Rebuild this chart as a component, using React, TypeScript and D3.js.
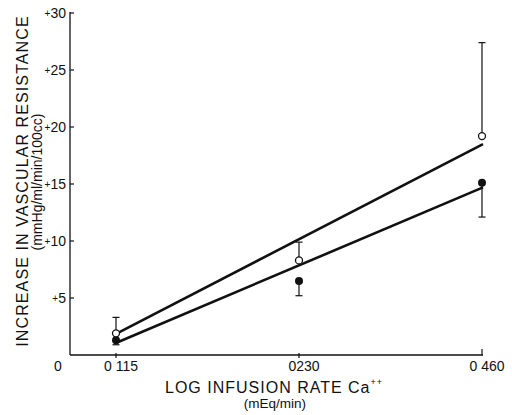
import * as d3 from "d3";
import { useEffect, useRef } from "react";

// infusion rates (mEq/min), plotted on a log axis
const rates = [0.115, 0.23, 0.46];
const rateLabels = ["0 115", "0230", "0 460"];
const yTicks = [5, 10, 15, 20, 25, 30];

// open circles, error bar goes up
const openMean = [1.9, 8.3, 19.2];
const openTop = [3.3, 9.9, 27.4];
// filled circles, error bar goes down
const filledMean = [1.3, 6.5, 15.1];
const filledBottom = [0.9, 5.2, 12.1];

// fitted regression lines (value at first and last rate)
const openFit = [1.9, 18.5];
const filledFit = [1.1, 14.7];

const FONT = "'Liberation Sans', Arial, sans-serif";

function App() {
    const ref = useRef<SVGSVGElement>(null);

    useEffect(() => {
        const svg = d3.select(ref.current);
        svg.selectAll("*").remove();

        const width = 512;
        const height = 415;
        svg.attr("width", width).attr("height", height);

        const axisLeft = 70;
        const x = d3.scaleLog().domain([0.115, 0.46]).range([116, 482]);
        const y = d3.scaleLinear().domain([0, 30]).range([355, 13]);
        const x0 = y(0);

        const ink = "#111";

        // axes
        svg.append("line")
            .attr("x1", axisLeft).attr("x2", x(0.46) + 1)
            .attr("y1", x0).attr("y2", x0)
            .attr("stroke", ink).attr("stroke-width", 1.5);
        svg.append("line")
            .attr("x1", axisLeft).attr("x2", axisLeft)
            .attr("y1", x0).attr("y2", y(30) - 1)
            .attr("stroke", ink).attr("stroke-width", 1.3);

        // y ticks + labels
        yTicks.forEach(v => {
            svg.append("line")
                .attr("x1", axisLeft).attr("x2", axisLeft + 4)
                .attr("y1", y(v)).attr("y2", y(v))
                .attr("stroke", ink).attr("stroke-width", 1.2);
            const t = svg.append("text")
                .attr("x", 66)
                .attr("y", y(v) + 5)
                .attr("text-anchor", "end")
                .style("font-family", FONT)
                .style("font-size", "14px")
                .attr("fill", ink);
            t.append("tspan").style("font-size", "10px").attr("dy", -1).text("+");
            t.append("tspan").attr("dy", 1).text(String(v));
        });

        svg.append("text")
            .attr("x", 58).attr("y", 371)
            .attr("text-anchor", "middle")
            .style("font-family", FONT).style("font-size", "14px")
            .attr("fill", ink)
            .text("0");

        // x ticks + labels
        rates.forEach((r, i) => {
            const px = x(r);
            const last = i === rates.length - 1;
            svg.append("line")
                .attr("x1", px).attr("x2", px)
                .attr("y1", last ? x0 - 6 : x0 - 2)
                .attr("y2", last ? x0 : x0 + 3)
                .attr("stroke", ink).attr("stroke-width", 1.2);
            svg.append("text")
                .attr("x", px + 5)
                .attr("y", 371)
                .attr("text-anchor", "middle")
                .style("font-family", FONT).style("font-size", "14px")
                .attr("fill", ink)
                .text(rateLabels[i]);
        });

        // axis titles
        const xt = svg.append("text")
            .attr("x", 165).attr("y", 393)
            .style("font-family", FONT).style("font-size", "16px")
            .style("letter-spacing", "1px")
            .attr("fill", ink);
        xt.append("tspan").text("LOG INFUSION RATE Ca");
        xt.append("tspan").attr("dy", -8).style("font-size", "9px").text("++");

        svg.append("text")
            .attr("x", 275).attr("y", 408)
            .attr("text-anchor", "middle")
            .style("font-family", FONT).style("font-size", "13.5px")
            .attr("fill", ink)
            .text("(mEq/min)");

        svg.append("text")
            .attr("transform", "translate(28,181) rotate(-90)")
            .attr("text-anchor", "middle")
            .style("font-family", FONT).style("font-size", "16px")
            .style("letter-spacing", "1.1px")
            .attr("fill", ink)
            .text("INCREASE IN VASCULAR RESISTANCE");

        svg.append("text")
            .attr("transform", "translate(42,182) rotate(-90)")
            .attr("text-anchor", "middle")
            .style("font-family", FONT).style("font-size", "14px")
            .attr("fill", ink)
            .text("(mmHg/ml/min/100cc)");

        // regression lines
        const ends = [rates[0], rates[rates.length - 1]];
        [openFit, filledFit].forEach(fit => {
            svg.append("line")
                .attr("x1", x(ends[0]) + 1).attr("y1", y(fit[0]))
                .attr("x2", x(ends[1]) + 1).attr("y2", y(fit[1]))
                .attr("stroke", ink).attr("stroke-width", 2.6);
        });

        // error bars
        const bar = (px: number, from: number, to: number) => {
            svg.append("line")
                .attr("x1", px).attr("x2", px)
                .attr("y1", y(from)).attr("y2", y(to))
                .attr("stroke", ink).attr("stroke-width", 1.2);
            svg.append("line")
                .attr("x1", px - 3.5).attr("x2", px + 3.5)
                .attr("y1", y(to)).attr("y2", y(to))
                .attr("stroke", ink).attr("stroke-width", 1.2);
        };
        rates.forEach((r, i) => {
            bar(x(r), openMean[i], openTop[i]);
            bar(x(r), filledMean[i], filledBottom[i]);
        });

        // points
        svg.selectAll(".filled")
            .data(rates)
            .enter()
            .append("circle")
            .attr("class", "filled")
            .attr("cx", d => x(d))
            .attr("cy", (d, i) => y(filledMean[i]))
            .attr("r", 4)
            .attr("fill", ink);

        svg.selectAll(".open")
            .data(rates)
            .enter()
            .append("circle")
            .attr("class", "open")
            .attr("cx", d => x(d))
            .attr("cy", (d, i) => y(openMean[i]))
            .attr("r", 3.5)
            .attr("fill", "white")
            .attr("stroke", ink)
            .attr("stroke-width", 1.3);
    }, []);

    return (
        <div style={{ position: "absolute", left: 0, top: 0 }}>
            <svg ref={ref} style={{ display: "block", background: "white" }} />
        </div>
    );
}

export default App;
